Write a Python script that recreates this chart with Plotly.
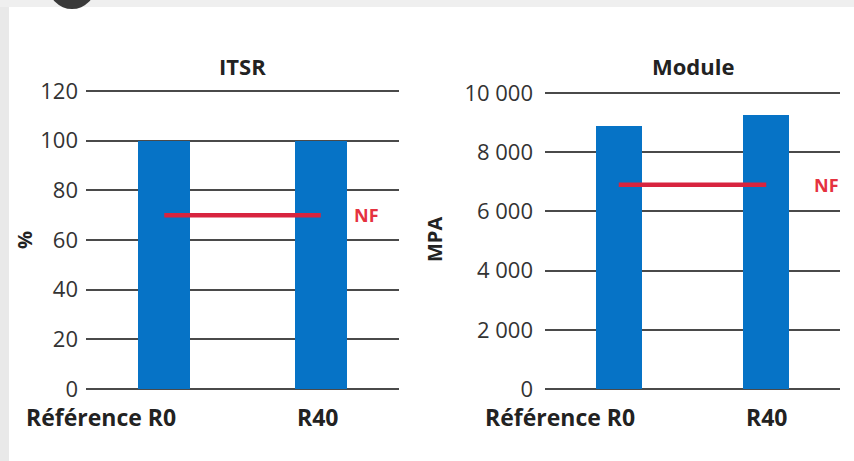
import plotly.graph_objects as go

categories = ["Référence R0", "R40"]
itsr_values = [100, 100]
itsr_nf = 70
module_values = [8900, 9250]
module_nf = 6900
itsr_ticks = [0, 20, 40, 60, 80, 100, 120]
module_ticks = [0, 2000, 4000, 6000, 8000, 10000]

W, H = 854, 461
BLUE = "#0673c6"
RED = "#d8243f"
GRID = "#4a4a4a"
FONT = "Open Sans"

def px(x):
    return x / W

def py(y):
    return 1 - y / H

fig = go.Figure()

fig.add_trace(go.Bar(x=categories, y=itsr_values, marker=dict(color=BLUE, line=dict(width=0)),
                     width=0.33, xaxis="x", yaxis="y", showlegend=False))
fig.add_trace(go.Scatter(x=categories, y=[itsr_nf] * len(categories), mode="lines",
                         line=dict(color=RED, width=4.5), xaxis="x", yaxis="y", showlegend=False))
fig.add_trace(go.Bar(x=categories, y=module_values, marker=dict(color=BLUE, line=dict(width=0)),
                     width=0.31, xaxis="x2", yaxis="y2", showlegend=False))
fig.add_trace(go.Scatter(x=categories, y=[module_nf] * len(categories), mode="lines",
                         line=dict(color=RED, width=4.5), xaxis="x2", yaxis="y2", showlegend=False))

tickfont = dict(family=FONT, size=22, color="#333333")
axis_common = dict(showgrid=True, gridcolor=GRID, gridwidth=1.6, zeroline=False,
                   showline=False, ticks="", tickfont=tickfont, automargin=False)
xaxis_common = dict(type="category", range=[-0.5, 1.5], showticklabels=False, showgrid=False,
                    zeroline=False, showline=False, ticks="", automargin=False)

# pixel scale: left 0->389, 120->91 ; right 0->389, 10000->93
k1 = (389 - 91) / 120.0
k2 = (389 - 93) / 10000.0
pad1, pad2 = 1.0, 100.0

fig.update_layout(
    width=W, height=H,
    margin=dict(l=0, r=0, t=0, b=0, pad=0),
    paper_bgcolor="white", plot_bgcolor="white",
    separators=", ",
    bargap=0,
    xaxis=dict(domain=[px(86), px(399)], anchor="y", **xaxis_common),
    yaxis=dict(domain=[py(389 + pad1 * k1), py(91 - pad1 * k1)], anchor="x",
               range=[-pad1, 120 + pad1], tickvals=itsr_ticks,
               ticklabelstandoff=7, **axis_common),
    xaxis2=dict(domain=[px(545), px(840)], anchor="y2", **xaxis_common),
    yaxis2=dict(domain=[py(389 + pad2 * k2), py(93 - pad2 * k2)], anchor="x2",
                range=[-pad2, 10000 + pad2], tickvals=module_ticks,
                tickformat=",d", ticklabelstandoff=11, **axis_common),
)

ann = []
lab_font = dict(family=FONT, size=23, color="#222222")
title_font = dict(family=FONT, size=22, color="#222222")
def add_text(txt, x, y, font, angle=0):
    ann.append(dict(text=txt, x=px(x), y=py(y), xref="paper", yref="paper", textangle=angle,
                    xanchor="center", yanchor="middle", showarrow=False, font=font))

add_text("<b>ITSR</b>", 243, 66, title_font)
add_text("<b>Module</b>", 693, 66, title_font)
add_text("<b>%</b>", 25, 240, dict(family=FONT, size=20, color="#222222"), -90)
add_text("<b>MPA</b>", 435, 240, dict(family=FONT, size=20, color="#222222"), -90)
for xpos, txt in [(101, categories[0]), (318, categories[1]), (560, categories[0]), (767, categories[1])]:
    add_text("<b>" + txt + "</b>", xpos, 417, lab_font)

ann.append(dict(text="<b>NF</b>", x=1.2, y=itsr_nf, xref="x", yref="y", xanchor="left",
                yanchor="middle", showarrow=False, font=dict(family=FONT, size=18, color="#e5323f")))
ann.append(dict(text="<b>NF</b>", x=1.31, y=module_nf, xref="x2", yref="y2", xanchor="left",
                yanchor="middle", showarrow=False, font=dict(family=FONT, size=18, color="#e5323f")))
fig.update_layout(annotations=ann)

shapes = [
    dict(type="rect", xref="paper", yref="paper", x0=0, x1=px(9), y0=0, y1=1,
         fillcolor="#e9e9e9", line=dict(width=0), layer="below"),
    dict(type="rect", xref="paper", yref="paper", x0=0, x1=1, y0=py(7), y1=1,
         fillcolor="#efefef", line=dict(width=0), layer="below"),
    dict(type="circle", xref="paper", yref="paper", x0=px(48), x1=px(96), y0=py(9), y1=py(-40),
         fillcolor="#3a3a3a", line=dict(width=0), layer="above"),
]
fig.update_layout(shapes=shapes)

fig.write_html("out.html", config={"displayModeBar": False},
               post_script="document.body.style.margin='0';document.body.style.overflow='hidden';")
